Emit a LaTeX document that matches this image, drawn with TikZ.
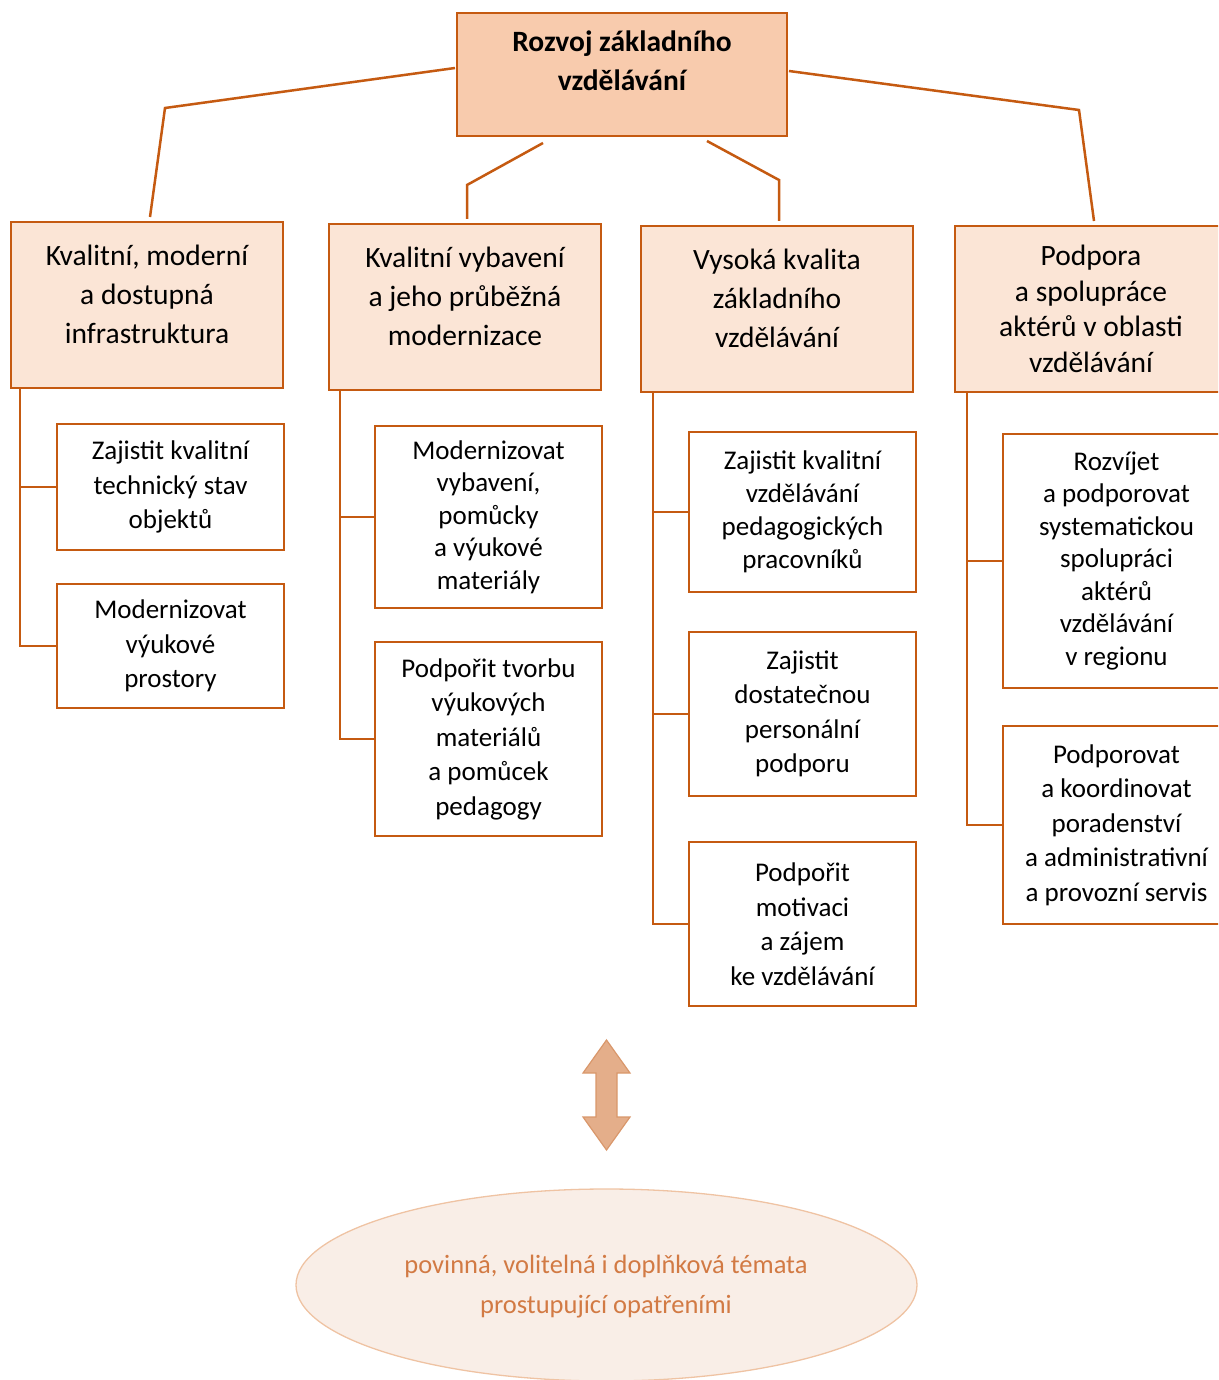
\documentclass[tikz,border=0pt]{standalone}
\usepackage{fontspec}
\setmainfont{Carlito}
\usetikzlibrary{shapes.geometric}
\definecolor{brd}{HTML}{C55A11}
\definecolor{topfill}{HTML}{F8CBAD}
\definecolor{midfill}{HTML}{FBE5D6}
\definecolor{arrfill}{HTML}{E4AE8A}
\definecolor{arrbrd}{HTML}{D9976B}
\definecolor{ellfill}{HTML}{F9EEE7}
\definecolor{ellbrd}{HTML}{EFC3A3}
\definecolor{elltext}{HTML}{D27A44}
\tikzset{
  topbox/.style={draw=brd, line width=2.8pt, fill=topfill, minimum width=330, minimum height=123, inner sep=0pt, outer sep=0pt},
  midbox/.style={draw=brd, line width=2.8pt, fill=midfill, minimum width=272, minimum height=166, inner sep=0pt, outer sep=0pt},
  subbox/.style={draw=brd, line width=2.8pt, fill=white, minimum width=227, inner sep=0pt, outer sep=0pt, align=center, font=\fontsize{27}{34.5}\selectfont},
  midtext/.style={align=center, inner sep=0pt, font=\fontsize{29.5}{39}\selectfont},
  conn/.style={draw=brd, line width=2.5pt},
}
\begin{document}
\begin{tikzpicture}[x=1pt,y=-1pt]
\useasboundingbox (0,0) rectangle (1218,1380);
\clip (0,0) rectangle (1218,1380);

% top
\node[topbox] (top) at (622,74.5) {};
\node[align=center, inner sep=0pt, font=\fontsize{29.5}{38.5}\selectfont\bfseries] (ttop) at (622,61) {Rozvoj základního\\vzdělávání};

% level 2
\node[midbox] (A) at (147,305) {};
\node[midtext] (tA) at (147,294) {Kvalitní, moderní\\a dostupná\\infrastruktura};
\node[midbox] (B) at (465,307) {};
\node[midtext] (tB) at (465,296) {Kvalitní vybavení\\a jeho průběžná\\modernizace};
\node[midbox] (C) at (777,309) {};
\node[midtext] (tC) at (777,298) {Vysoká kvalita\\základního\\vzdělávání};
\node[midbox] (D) at (1091,309) {};
\node[midtext, font=\fontsize{29.5}{35.5}\selectfont] (tD) at (1091,309) {Podpora\\a spolupráce\\aktérů v oblasti\\vzdělávání};

% level 3
\node[subbox, minimum height=126] (A1) at (170.5,487) {Zajistit kvalitní\\technický stav\\objektů};
\node[subbox, minimum height=124] (A2) at (170.5,646) {Modernizovat\\výukové\\prostory};
\node[subbox, minimum height=182, font=\fontsize{27}{32.5}\selectfont] (B1) at (488.5,517) {Modernizovat\\vybavení,\\pomůcky\\a výukové\\materiály};
\node[subbox, minimum height=194] (B2) at (488.5,739) {Podpořit tvorbu\\výukových\\materiálů\\a pomůcek\\pedagogy};
\node[subbox, minimum height=160, font=\fontsize{27}{33}\selectfont] (C1) at (802.5,512) {Zajistit kvalitní\\vzdělávání\\pedagogických\\pracovníků};
\node[subbox, minimum height=164] (C2) at (802.5,714) {Zajistit\\dostatečnou\\personální\\podporu};
\node[subbox, minimum height=164] (C3) at (802.5,924) {Podpořit\\motivaci\\a zájem\\ke vzdělávání};
\node[subbox, minimum height=254, font=\fontsize{27}{32.5}\selectfont] (D1) at (1116.5,561) {Rozvíjet\\a podporovat\\systematickou\\spolupráci\\aktérů\\vzdělávání\\v regionu};
\node[subbox, minimum height=198] (D2) at (1116.5,825) {Podporovat\\a koordinovat\\poradenství\\a administrativní\\a provozní servis};

% connectors from top
\draw[conn] ([xshift=-2pt,yshift=6.5pt]top.west) -- (165,108) -- ([xshift=3pt,yshift=5pt]A.north);
\draw[conn] ([xshift=-79pt,yshift=-7pt]top.south) -- (467,185) -- ([xshift=2pt,yshift=5pt]B.north);
\draw[conn] ([xshift=85pt,yshift=-5pt]top.south) -- (779,180) -- ([xshift=2pt,yshift=5pt]C.north);
\draw[conn] ([xshift=2pt,yshift=3.5pt]top.east) -- (1079,110) -- ([xshift=3pt,yshift=5pt]D.north);

% trunks
\draw[conn] ([xshift=9pt]A.south west) |- (A1.west);
\draw[conn] ([xshift=9pt]A.south west) |- (A2.west);
\draw[conn] ([xshift=11pt]B.south west) |- (B1.west);
\draw[conn] ([xshift=11pt]B.south west) |- (B2.west);
\draw[conn] ([xshift=12pt]C.south west) |- (C1.west);
\draw[conn] ([xshift=12pt]C.south west) |- (C2.west);
\draw[conn] ([xshift=12pt]C.south west) |- (C3.west);
\draw[conn] ([xshift=12pt]D.south west) |- (D1.west);
\draw[conn] ([xshift=12pt]D.south west) |- (D2.west);

% double arrow
\fill[arrfill, draw=arrbrd, line width=1.2pt]
  (606.5,1040) -- (630,1073) -- (617,1073) -- (617,1117) -- (630,1117) -- (606.5,1150)
  -- (583,1117) -- (596,1117) -- (596,1073) -- (583,1073) -- cycle;

% ellipse
\node[ellipse, draw=ellbrd, line width=1.3pt, fill=ellfill, minimum width=621, minimum height=192, inner sep=0pt] (ell) at (606.5,1285) {};
\node[align=center, inner sep=0pt, text=elltext, font=\fontsize{26.5}{40}\selectfont] (tell) at (606,1287) {povinná, volitelná i doplňková témata\\prostupující opatřeními};
\end{tikzpicture}
\end{document}
